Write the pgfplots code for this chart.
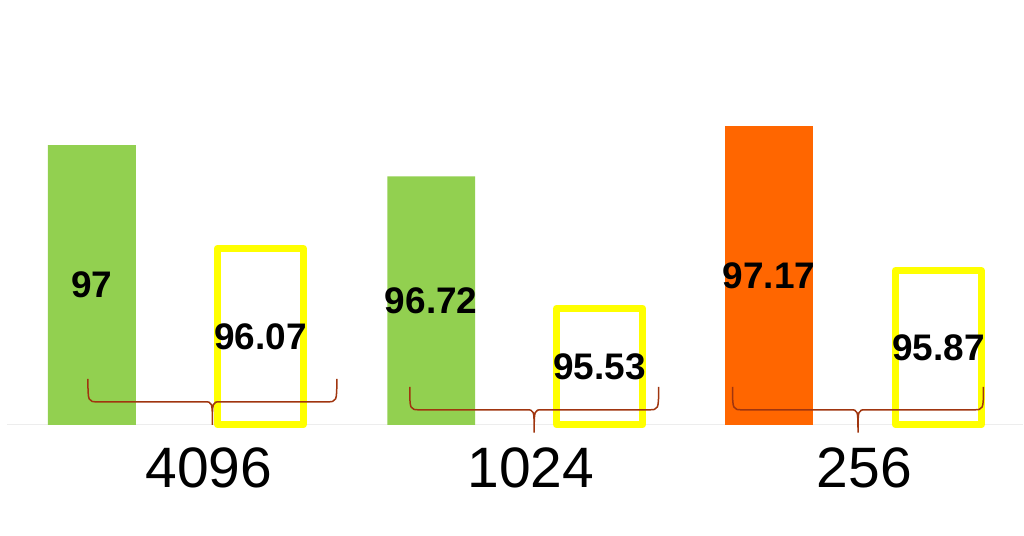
\documentclass[border=0pt]{standalone}
\usepackage{pgfplots}
\pgfplotsset{compat=1.18}
\usepackage{pgfplotstable}
\usepackage{fontspec}
\setmainfont{Liberation Sans}
\definecolor{barG}{HTML}{92D050}
\definecolor{barO}{HTML}{FF6600}
\definecolor{barY}{HTML}{FFFF00}
\definecolor{brc}{HTML}{A0350F}

% x = bar centre (px), v = value
\pgfplotstableread{
x v lbl
92 97 97
431.5 96.72 96.72
}\green
\pgfplotstableread{
x v lbl
769.5 97.17 97.17
}\orange
\pgfplotstableread{
x v lbl
260.5 96.07 96.07
600 95.53 95.53
939 95.87 95.87
}\yellow

\begin{document}
\begin{tikzpicture}
\begin{axis}[
  width=1024bp, height=536bp, scale only axis,
  xmin=0, xmax=1024, ymin=-1, ymax=3.829,
  hide axis, clip mode=individual,
]
\draw[color=black!7, line width=1.2bp] (axis cs:7,0) -- (axis cs:1024,0);
\addplot[ybar, bar width=88bp, bar shift=0pt, fill=barG, draw=none]
  table[x=x, y expr=\thisrow{v}-94.48] {\green};
\addplot[ybar, bar width=88bp, bar shift=0pt, fill=barO, draw=none]
  table[x=x, y expr=\thisrow{v}-94.48] {\orange};
\addplot[ybar, bar width=86bp, bar shift=0pt, fill=white, draw=barY, line width=7bp, line join=round]
  table[x=x, y expr=\thisrow{v}-94.48] {\yellow};
% value labels at mid-bar
\pgfplotsset{lblstyle/.style={draw=none, mark=none, nodes near coords, point meta=explicit symbolic,
  every node near coord/.style={anchor=center, font=\fontsize{37bp}{39bp}\selectfont\bfseries, text=black}}}
\addplot[lblstyle] table[x=x, y expr=(\thisrow{v}-94.48)/2, meta=lbl] {\green};
\addplot[lblstyle] table[x=x, y expr=(\thisrow{v}-94.48)/2, meta=lbl] {\orange};
\addplot[lblstyle] table[x=x, y expr=(\thisrow{v}-94.48)/2, meta=lbl] {\yellow};
% braces
\draw[brc, line width=1.5bp]
  (axis cs:88,0.414) .. controls (axis cs:88,0.207) .. (axis cs:98,0.207)
  -- (axis cs:204.5,0.207) .. controls (axis cs:212.5,0.207) .. (axis cs:212.5,0)
  .. controls (axis cs:212.5,0.207) .. (axis cs:220.5,0.207)
  -- (axis cs:327,0.207) .. controls (axis cs:337,0.207) .. (axis cs:337,0.414);
\draw[brc, line width=1.5bp]
  (axis cs:410,0.342) .. controls (axis cs:410,0.135) .. (axis cs:420,0.135)
  -- (axis cs:526.5,0.135) .. controls (axis cs:534.5,0.135) .. (axis cs:534.5,-0.072)
  .. controls (axis cs:534.5,0.135) .. (axis cs:542.5,0.135)
  -- (axis cs:649,0.135) .. controls (axis cs:659,0.135) .. (axis cs:659,0.342);
\draw[brc, line width=1.5bp]
  (axis cs:733,0.342) .. controls (axis cs:733,0.135) .. (axis cs:743,0.135)
  -- (axis cs:850.5,0.135) .. controls (axis cs:858.5,0.135) .. (axis cs:858.5,-0.072)
  .. controls (axis cs:858.5,0.135) .. (axis cs:866.5,0.135)
  -- (axis cs:974,0.135) .. controls (axis cs:984,0.135) .. (axis cs:984,0.342);
% category labels
\node[anchor=base, font=\fontsize{57bp}{60bp}\selectfont, inner sep=0pt] at (axis cs:209,-0.567) {4096};
\node[anchor=base, font=\fontsize{57bp}{60bp}\selectfont, inner sep=0pt] at (axis cs:531,-0.567) {1024};
\node[anchor=base, font=\fontsize{57bp}{60bp}\selectfont, inner sep=0pt] at (axis cs:865,-0.567) {256};
\path (rel axis cs:0,0) rectangle (rel axis cs:1,1);
\end{axis}
\end{tikzpicture}
\end{document}
